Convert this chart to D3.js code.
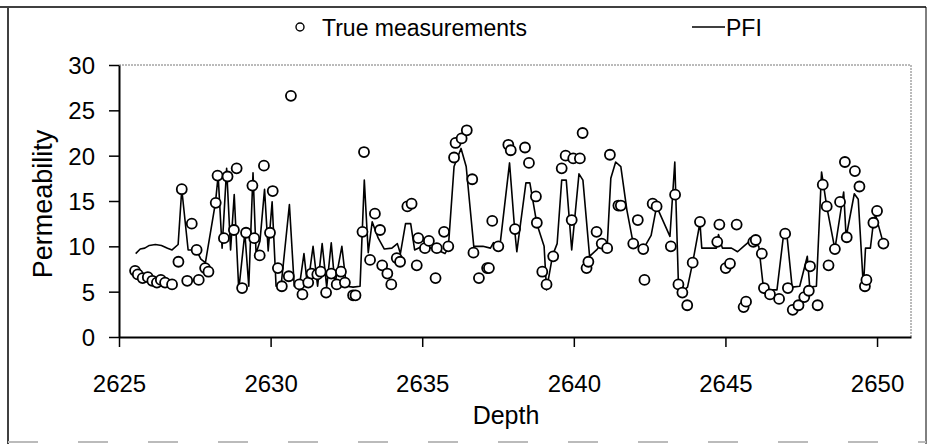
<!DOCTYPE html>
<html>
<head>
<meta charset="utf-8">
<script src="https://cdn.jsdelivr.net/npm/d3@7"></script>
<style>
  body { margin: 0; background: #fff; }
  svg { display: block; font-family: "Liberation Sans", Arial, sans-serif; }
</style>
</head>
<body>
<svg id="chart" width="930" height="444"></svg>
<script>
// measured permeability (circles): depth, value
var trueDepth = [2625.53, 2625.62, 2625.78, 2625.95, 2626.10, 2626.25, 2626.38, 2626.52, 2626.75, 2626.96,
  2627.07, 2627.25, 2627.40, 2627.56, 2627.63, 2627.84, 2627.95, 2628.19, 2628.25, 2628.46,
  2628.58, 2628.79, 2628.88, 2629.06, 2629.19, 2629.40, 2629.46, 2629.64, 2629.78, 2629.98,
  2630.07, 2630.24, 2630.37, 2630.60, 2630.67, 2630.95, 2631.05, 2631.24, 2631.35, 2631.54,
  2631.65, 2631.83, 2632.00, 2632.18, 2632.32, 2632.45, 2632.72, 2632.80, 2633.03, 2633.08,
  2633.28, 2633.44, 2633.61, 2633.68, 2633.85, 2633.98, 2634.16, 2634.27, 2634.51, 2634.65,
  2634.82, 2634.87, 2635.09, 2635.22, 2635.44, 2635.48, 2635.72, 2635.86, 2636.05, 2636.10,
  2636.30, 2636.47, 2636.65, 2636.69, 2636.87, 2637.14, 2637.20, 2637.31, 2637.51, 2637.84,
  2637.92, 2638.06, 2638.39, 2638.52, 2638.75, 2638.78, 2638.96, 2639.10, 2639.32, 2639.60,
  2639.73, 2639.93, 2639.98, 2640.20, 2640.29, 2640.42, 2640.48, 2640.75, 2640.92, 2641.10,
  2641.19, 2641.47, 2641.55, 2641.96, 2642.11, 2642.29, 2642.33, 2642.60, 2642.73, 2643.20,
  2643.34, 2643.45, 2643.58, 2643.74, 2643.92, 2644.16, 2644.73, 2644.80, 2645.01, 2645.15,
  2645.37, 2645.60, 2645.68, 2645.92, 2646.00, 2646.20, 2646.27, 2646.47, 2646.77, 2646.97,
  2647.06, 2647.22, 2647.41, 2647.60, 2647.75, 2647.79, 2648.04, 2648.21, 2648.34, 2648.40,
  2648.61, 2648.78, 2648.94, 2649.00, 2649.27, 2649.42, 2649.60, 2649.65, 2649.88, 2650.00,
  2650.21];
var trueVal = [7.3, 6.9, 6.5, 6.6, 6.2, 6.0, 6.3, 6.0, 5.8, 8.3,
  16.3, 6.2, 12.5, 9.6, 6.3, 7.6, 7.2, 14.8, 17.8, 10.9,
  17.7, 11.8, 18.6, 5.4, 11.5, 16.7, 10.9, 9.0, 18.9, 11.5,
  16.1, 7.6, 5.6, 6.7, 26.6, 5.8, 4.7, 6.0, 7.0, 6.9,
  7.2, 4.9, 7.0, 5.8, 7.2, 6.0, 4.6, 4.6, 11.6, 20.4,
  8.5, 13.6, 11.8, 7.9, 7.0, 5.8, 8.7, 8.3, 14.4, 14.7,
  7.9, 10.9, 9.8, 10.6, 6.5, 9.8, 11.6, 10.0, 19.8, 21.4,
  21.9, 22.8, 17.4, 9.3, 6.5, 7.6, 7.6, 12.8, 10.0, 21.2,
  20.6, 11.9, 20.9, 19.2, 15.5, 12.6, 7.2, 5.8, 8.9, 18.6,
  20.0, 12.9, 19.7, 19.7, 22.5, 7.6, 8.3, 11.6, 10.3, 9.8,
  20.1, 14.5, 14.5, 10.3, 12.9, 9.7, 6.3, 14.7, 14.4, 10.0,
  15.7, 5.8, 4.9, 3.5, 8.2, 12.7, 10.5, 12.4, 7.6, 8.1,
  12.4, 3.3, 3.9, 10.5, 10.7, 9.2, 5.4, 4.7, 4.2, 11.4,
  5.4, 3.0, 3.5, 4.4, 5.1, 7.8, 3.5, 16.8, 14.4, 7.9,
  9.7, 14.9, 19.3, 11.0, 18.3, 16.6, 5.6, 6.3, 12.6, 13.9,
  10.3];

// PFI estimate (line): depth, value
var pfiDepth = [2625.55, 2625.70, 2625.85, 2626.00, 2626.20, 2626.40, 2626.60, 2626.75, 2626.95, 2627.07,
  2627.28, 2627.55, 2627.70, 2627.85, 2628.18, 2628.27, 2628.40, 2628.55, 2628.68, 2628.80,
  2628.95, 2629.15, 2629.28, 2629.42, 2629.52, 2629.65, 2629.80, 2629.92, 2630.05, 2630.18,
  2630.35, 2630.62, 2630.78, 2630.95, 2631.10, 2631.22, 2631.40, 2631.55, 2631.70, 2631.85,
  2632.00, 2632.12, 2632.35, 2632.50, 2632.72, 2632.95, 2633.09, 2633.22, 2633.35, 2633.55,
  2633.75, 2634.00, 2634.18, 2634.28, 2634.45, 2634.62, 2634.75, 2635.00, 2635.30, 2635.50,
  2635.75, 2635.86, 2636.05, 2636.28, 2636.45, 2636.70, 2637.00, 2637.25, 2637.35, 2637.55,
  2637.88, 2638.05, 2638.12, 2638.42, 2638.55, 2638.78, 2639.02, 2639.10, 2639.30, 2639.45,
  2639.60, 2639.75, 2639.93, 2640.17, 2640.30, 2640.52, 2640.75, 2640.92, 2641.10, 2641.22,
  2641.38, 2641.55, 2641.75, 2641.96, 2642.29, 2642.55, 2642.73, 2643.17, 2643.33, 2643.45,
  2643.58, 2643.75, 2643.92, 2644.16, 2644.22, 2644.70, 2644.77, 2644.90, 2645.20, 2645.40,
  2645.60, 2645.85, 2646.10, 2646.25, 2646.45, 2646.70, 2646.90, 2647.02, 2647.20, 2647.45,
  2647.70, 2647.78, 2648.00, 2648.17, 2648.34, 2648.61, 2648.90, 2648.98, 2649.25, 2649.38,
  2649.55, 2649.62, 2649.78, 2649.88, 2649.95, 2650.21];
var pfiVal = [9.2, 9.7, 9.8, 10.1, 10.2, 10.1, 9.8, 9.6, 10.2, 16.3,
  9.6, 9.6, 8.6, 8.2, 14.8, 17.8, 9.8, 18.6, 9.6, 15.7,
  5.2, 11.5, 5.6, 18.1, 9.2, 10.6, 16.3, 9.5, 14.9, 5.6,
  5.8, 14.6, 5.6, 5.6, 9.2, 5.5, 10.0, 5.6, 10.3, 5.5,
  10.4, 5.8, 10.0, 5.6, 5.5, 5.6, 17.3, 9.3, 12.7, 10.9,
  9.7, 9.8, 10.3, 9.2, 12.5, 12.5, 9.6, 10.0, 9.8, 9.6,
  9.2, 9.8, 18.8, 20.8, 18.8, 10.0, 10.0, 9.8, 10.4, 9.7,
  19.2, 11.8, 9.4, 17.0, 17.0, 12.5, 10.0, 5.2, 9.0, 10.3,
  17.3, 17.3, 9.6, 18.0, 17.3, 8.9, 9.6, 10.3, 10.0, 17.5,
  19.3, 18.8, 14.0, 10.3, 9.7, 11.2, 14.4, 11.1, 19.3, 5.8,
  5.0, 5.5, 8.2, 12.6, 9.8, 9.8, 11.3, 9.8, 9.8, 9.4,
  10.0, 10.7, 10.0, 5.5, 5.2, 5.2, 10.8, 11.5, 5.5, 5.6,
  8.9, 5.5, 5.6, 18.2, 14.4, 9.7, 16.0, 11.0, 15.8, 15.2,
  5.5, 9.8, 9.8, 12.6, 13.5, 10.3];

var yTicks = [0, 5, 10, 15, 20, 25, 30];
var xTicks = [2625, 2630, 2635, 2640, 2645, 2650];
var legendLabels = ["True measurements", "PFI"];

var svg = d3.select("#chart");
var margin = {top: 65, right: 19, bottom: 107, left: 119};
var width = 930, height = 444;

var x = d3.scaleLinear()
  .domain([2625, 2651.12])
  .range([margin.left, width - margin.right]);

var y = d3.scaleLinear()
  .domain([0, 30])
  .range([height - margin.bottom, margin.top]);

// outer frame of the scanned figure
svg.append("line").attr("x1", 8).attr("x2", 8).attr("y1", 8).attr("y2", 444)
  .attr("stroke", "#000").attr("stroke-width", 1.5);
svg.append("line").attr("x1", 0).attr("x2", 926).attr("y1", 7).attr("y2", 7)
  .attr("stroke", "#000").attr("stroke-width", 1.5);
svg.append("line").attr("x1", 926).attr("x2", 926).attr("y1", 7).attr("y2", 444)
  .attr("stroke", "#000").attr("stroke-width", 1);
svg.append("line").attr("x1", 8).attr("x2", 926).attr("y1", 442).attr("y2", 442)
  .attr("stroke", "#bbb").attr("stroke-width", 2).attr("stroke-dasharray", "30,40");

// dotted top and right plot border
svg.append("path")
  .attr("d", "M" + x.range()[0] + "," + y(30) + "H" + x.range()[1] + "V" + y(0))
  .attr("fill", "none")
  .attr("stroke", "#777")
  .attr("stroke-width", 1)
  .attr("stroke-dasharray", "2,1");

var xAxis = svg.append("g")
  .attr("transform", "translate(0," + y(0) + ")")
  .call(d3.axisBottom(x).tickValues(xTicks).tickSize(10).tickSizeOuter(0).tickFormat(d3.format("d")));

var yAxis = svg.append("g")
  .attr("transform", "translate(" + margin.left + ",0)")
  .call(d3.axisLeft(y).tickValues(yTicks).tickSize(10).tickSizeOuter(0));

[xAxis, yAxis].forEach(function(a) {
  a.select(".domain").attr("stroke", "#000").attr("stroke-width", 2);
  a.selectAll(".tick line").attr("stroke", "#000").attr("stroke-width", 1.5);
  a.selectAll("text").attr("fill", "#000").style("font-size", "24px")
    .style("font-family", "'Liberation Sans', Arial, sans-serif");
});
xAxis.selectAll("text").attr("y", 55).attr("dy", 0);
yAxis.selectAll("text").attr("x", -24).attr("dy", "0.36em");

svg.append("text")
  .attr("x", 506).attr("y", 424)
  .attr("text-anchor", "middle")
  .style("font-size", "25px")
  .text("Depth");

svg.append("text")
  .attr("transform", "translate(52,204) rotate(-90)")
  .attr("text-anchor", "middle")
  .style("font-size", "27px")
  .text("Permeability");

var line = d3.line()
  .x(function(d, i) { return x(pfiDepth[i]); })
  .y(function(d) { return y(d); });

svg.append("path")
  .datum(pfiVal)
  .attr("d", line)
  .attr("fill", "none")
  .attr("stroke", "#000")
  .attr("stroke-width", 1.6)
  .attr("stroke-linejoin", "round");

svg.append("g")
  .selectAll("circle")
  .data(trueVal)
  .enter().append("circle")
  .attr("cx", function(d, i) { return x(trueDepth[i]); })
  .attr("cy", function(d) { return y(d); })
  .attr("r", 5)
  .attr("fill", "#fff")
  .attr("stroke", "#000")
  .attr("stroke-width", 1.8);

// legend
var legend = svg.append("g");
legend.append("circle")
  .attr("cx", 300).attr("cy", 27).attr("r", 4)
  .attr("fill", "#fff").attr("stroke", "#000").attr("stroke-width", 1.4);
legend.append("text")
  .attr("x", 322).attr("y", 36)
  .style("font-size", "23px")
  .text(legendLabels[0]);
legend.append("line")
  .attr("x1", 692).attr("x2", 725).attr("y1", 27).attr("y2", 27)
  .attr("stroke", "#000").attr("stroke-width", 1.4);
legend.append("text")
  .attr("x", 726).attr("y", 36)
  .style("font-size", "23px")
  .text(legendLabels[1]);
</script>
</body>
</html>
